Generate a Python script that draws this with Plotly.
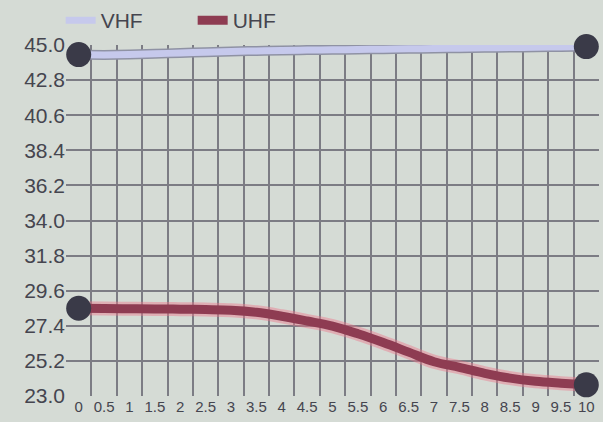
import plotly.graph_objects as go

x_labels = ['0', '0.5', '1', '1.5', '2', '2.5', '3', '3.5', '4', '4.5', '5',
            '5.5', '6', '6.5', '7', '7.5', '8', '8.5', '9', '9.5', '10']

vhf = [44.4, 44.38, 44.4, 44.45, 44.5, 44.55, 44.6, 44.63, 44.66, 44.68, 44.7,
       44.72, 44.74, 44.76, 44.78, 44.8, 44.82, 44.84, 44.86, 44.88, 44.9]

uhf = [28.5, 28.48, 28.47, 28.46, 28.44, 28.42, 28.38, 28.25, 28.0, 27.7, 27.38,
       26.9, 26.35, 25.75, 25.15, 24.8, 24.42, 24.12, 23.92, 23.8, 23.7]

y_ticks = [23.0, 25.2, 27.4, 29.6, 31.8, 34.0, 36.2, 38.4, 40.6, 42.8, 45.0]

BG = '#d5dbd5'
GRID = '#7c7c84'
ends = [0, len(x_labels) - 1]

fig = go.Figure()

# soft pink halo under the UHF line
fig.add_trace(go.Scatter(
    x=x_labels, y=uhf, mode='lines', showlegend=False, hoverinfo='skip',
    line=dict(color='rgba(235,120,140,0.45)', width=14, shape='spline'),
))
fig.add_trace(go.Scatter(
    x=x_labels, y=uhf, mode='lines', name='UHF',
    line=dict(color='#8e3c52', width=9, shape='spline'),
))

# VHF: lavender band with a grey edge
fig.add_trace(go.Scatter(
    x=x_labels, y=vhf, mode='lines', showlegend=False, hoverinfo='skip',
    line=dict(color='#8f92a4', width=10, shape='spline'),
))
fig.add_trace(go.Scatter(
    x=x_labels, y=vhf, mode='lines', name='VHF',
    line=dict(color='#c6c9ec', width=7, shape='spline'),
))

# end markers
for series in (vhf, uhf):
    fig.add_trace(go.Scatter(
        x=[x_labels[i] for i in ends], y=[series[i] for i in ends],
        mode='markers', showlegend=False, cliponaxis=False,
        marker=dict(size=25, color='#3a3a48', line=dict(width=0)),
    ))

fig.update_layout(
    width=603, height=422,
    paper_bgcolor=BG, plot_bgcolor=BG,
    margin=dict(l=66, r=4, t=45, b=26, autoexpand=False),
    font=dict(family='Liberation Sans, Arial, sans-serif', color='#45454f'),
    legend=dict(orientation='h', x=-0.01, y=1.0, xref='paper', yref='container',
                xanchor='left', yanchor='top',
                traceorder='reversed', font=dict(size=21), bgcolor='rgba(0,0,0,0)',
                itemwidth=30, entrywidth=87, entrywidthmode='pixels'),
    xaxis=dict(
        type='category', tickson='boundaries', range=[-0.5, len(x_labels) - 0.5],
        showgrid=True, gridcolor=GRID, gridwidth=1.5, ticks='',
        showline=False, zeroline=False, tickangle=0, automargin=False,
        tickfont=dict(size=15, color='#45454f'),
    ),
    yaxis=dict(
        range=[23.0, 45.0], tickvals=y_ticks,
        ticktext=[f'{v:.1f}' for v in y_ticks], automargin=False,
        showgrid=True, gridcolor=GRID, gridwidth=1.5, zeroline=False,
        tickfont=dict(size=21, color='#45454f'), ticks='',
    ),
)

fig.write_html("out.html", config={'displayModeBar': False},
               post_script="document.body.style.margin='0';")
